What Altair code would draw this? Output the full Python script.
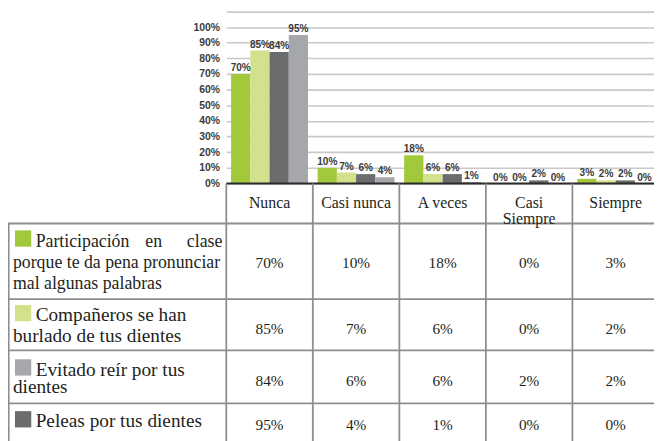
import altair as alt
import pandas as pd

# ---------------- data ----------------
categories = ["Nunca", "Casi nunca", "A veces", "Casi Siempre", "Siempre"]
header_labels = ["Nunca", "Casi nunca", "A veces", "Casi\nSiempre", "Siempre"]

series = [
    "Participación en clase porque te da pena pronunciar mal algunas palabras",
    "Compañeros se han burlado de tus dientes",
    "Evitado reír por tus dientes",
    "Peleas por tus dientes",
]
label_lines = [
    ["Participación en clase", "porque te da pena pronunciar", "mal algunas palabras"],
    ["Compañeros se han", "burlado de tus dientes"],
    ["Evitado reír por tus", "dientes"],
    ["Peleas por tus dientes"],
]

participacion = [70, 10, 18, 0, 3]
companeros = [85, 7, 6, 0, 2]
evitado = [84, 6, 6, 2, 2]
peleas = [95, 4, 1, 0, 0]
values = [participacion, companeros, evitado, peleas]

y_ticks = [0, 10, 20, 30, 40, 50, 60, 70, 80, 90, 100, 110]

# ---------------- styles / layout ----------------
bar_colors = ["#a2c83c", "#d3e18d", "#6b6c6e", "#a6a7aa"]      # as drawn in the bars
marker_colors = ["#a2c83c", "#d3e18d", "#a6a7aa", "#6b6c6e"]   # as drawn in the table
LINE = "#8e8e8e"
TXT = "#231f20"
SERIF = "Times New Roman, Liberation Serif, serif"
SANS = "Arial, Liberation Sans, sans-serif"

LEFT = 221  # plot area starts at page x = 8 + 221 = 229


def px(page_x):
    return page_x - 229


def py(page_y):
    return page_y - 8


rows = []
for s, vals in zip(series, values):
    for c, v in zip(categories, vals):
        rows.append({"series": s, "cat": c, "value": v, "label": f"{v}%"})
df = pd.DataFrame(rows)

xs = alt.Scale(domain=categories, range=[0, 438], paddingInner=0, paddingOuter=0)
xenc = alt.X("cat:N", scale=xs, axis=None)
ys = alt.Scale(domain=[0, 110], range=[175, 0.8], nice=False)
yaxis = alt.Axis(
    values=y_ticks,
    labelExpr="datum.value > 100 ? '' : datum.value + '%'",
    grid=True, gridColor="#c9c9c9", gridWidth=1.6,
    domain=False, ticks=False, labelPadding=7,
    labelFont=SANS, labelFontWeight="bold", labelFontSize=10.5, labelColor="#3a3a3a",
)
yenc = alt.Y("value:Q", scale=ys, axis=yaxis, title=None)
xoff = alt.XOffset("series:N", scale=alt.Scale(domain=series, paddingOuter=0.25, paddingInner=0))

bars = alt.Chart(df).mark_bar().encode(
    x=xenc, xOffset=xoff, y=yenc,
    color=alt.Color("series:N", scale=alt.Scale(domain=series, range=bar_colors), legend=None),
)
bar_labels = alt.Chart(df).mark_text(
    baseline="alphabetic", dy=-3, font=SANS, fontWeight="bold", fontSize=10.2, color="#3a3a3a"
).encode(x=xenc, xOffset=xoff, y=yenc, text="label:N")

zero_rule = alt.Chart(pd.DataFrame({"value": [0]})).mark_rule(
    color="#2b2b2b", strokeWidth=2
).encode(y=yenc)

layers = [bars, bar_labels, zero_rule]

dummy = pd.DataFrame({"a": [0]})

# table grid lines
for yy in [223.5, 300, 352, 405.5]:
    layers.append(
        alt.Chart(dummy).mark_rule(color=LINE, strokeWidth=1.8).encode(
            x=alt.value(px(8)), x2=alt.value(px(662)), y=alt.value(py(yy))
        )
    )
layers.append(
    alt.Chart(pd.DataFrame({"cat": categories})).mark_rule(color=LINE, strokeWidth=1.8).encode(
        x=alt.X("cat:N", scale=xs, axis=None, bandPosition=0),
        y=alt.value(py(183)), y2=alt.value(py(450)),
    )
)
layers.append(
    alt.Chart(dummy).mark_rule(color=LINE, strokeWidth=1.8).encode(
        x=alt.value(px(8.7)), y=alt.value(py(223.5)), y2=alt.value(py(450))
    )
)

# header row
layers.append(
    alt.Chart(pd.DataFrame({"cat": categories, "head": header_labels})).mark_text(
        lineBreak="\n", font=SERIF, fontSize=16, baseline="middle", lineHeight=16, color=TXT
    ).encode(x=xenc, y=alt.value(py(202.7)), text="head:N")
)

# value cells
value_centers = [263.4, 330.4, 383.4, 427.4]
for s, yc in zip(series, value_centers):
    layers.append(
        alt.Chart(df[df["series"] == s]).mark_text(
            font=SERIF, fontSize=15.5, baseline="middle", color=TXT
        ).encode(x=xenc, y=alt.value(py(yc)), text="label:N")
    )

# row labels
first_baselines = [247, 322.5, 377.5, 430]
line_heights = [21.5, 20.5, 18, 20]
font_sizes = [18, 19.5, 19.5, 19.5]
for i, lines in enumerate(label_lines):
    fb = first_baselines[i]
    fs = font_sizes[i]
    layers.append(
        alt.Chart(dummy).mark_square(size=272, color=marker_colors[i], opacity=1, filled=True).encode(
            x=alt.value(px(23.3)), y=alt.value(py(fb - 8.3))
        )
    )
    if i == 0:
        words = lines[0].split(" ")
        word_pos = [(36, "left"), (147, "left"), (225, "right")]
        for w, (wx, al) in zip(words, word_pos):
            layers.append(
                alt.Chart(pd.DataFrame({"t": [w]})).mark_text(
                    font=SERIF, fontSize=fs, baseline="alphabetic", align=al, color=TXT
                ).encode(x=alt.value(px(wx)), y=alt.value(py(fb)), text="t:N")
            )
    else:
        layers.append(
            alt.Chart(pd.DataFrame({"t": [lines[0]]})).mark_text(
                font=SERIF, fontSize=fs, baseline="alphabetic", align="left", color=TXT
            ).encode(x=alt.value(px(36)), y=alt.value(py(fb)), text="t:N")
        )
    if len(lines) > 1:
        layers.append(
            alt.Chart(pd.DataFrame({"t": ["\n".join(lines[1:])]})).mark_text(
                font=SERIF, fontSize=fs, baseline="alphabetic", align="left", color=TXT,
                lineBreak="\n", lineHeight=line_heights[i]
            ).encode(x=alt.value(px(13)), y=alt.value(py(fb + line_heights[i])), text="t:N")
        )

chart = alt.layer(*layers).properties(
    width=433, height=433,
    autosize=alt.AutoSizeParams(type="none"),
    padding={"left": LEFT, "top": 0, "right": 0, "bottom": 0},
    background="white",
).configure_view(strokeWidth=0)

chart.save("out.html", embed_options={"renderer": "svg", "actions": False})
